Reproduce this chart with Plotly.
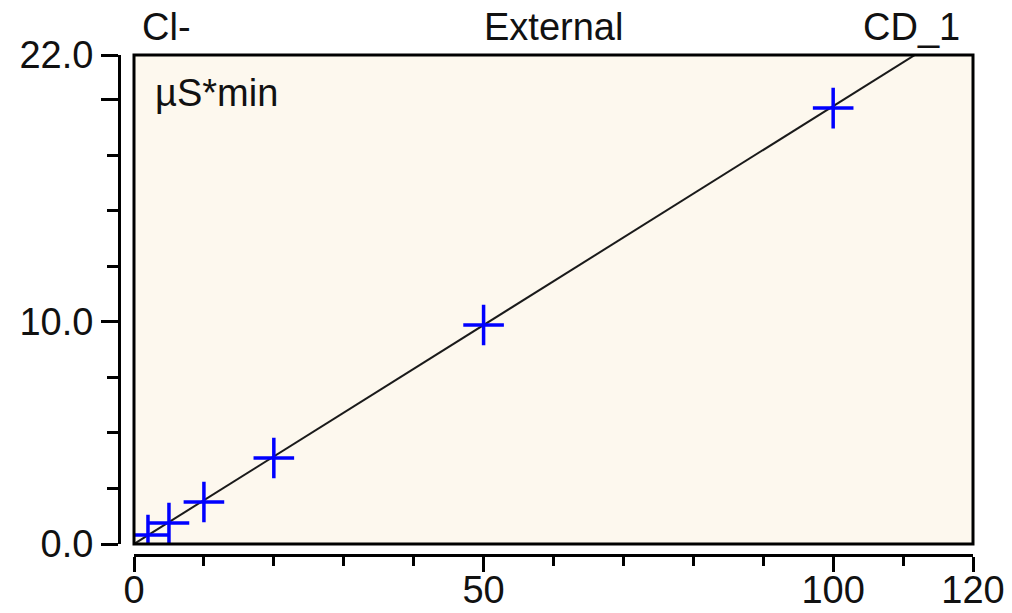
import plotly.graph_objects as go

# ---- data ----
conc = [2, 5, 10, 20, 50, 100]
area = [0.40, 0.94, 1.89, 3.87, 9.85, 19.61]
slope = 0.197              # calibration line through origin
line_x = [0, 120]

y_tickvals = [0, 10, 20, 22]
y_ticktext = ["0.0", "10.0", "", "22.0"]
y_minor = [2.5, 5, 7.5, 12.5, 15, 17.5]
x_tickvals = [0, 50, 100, 120]
x_ticktext = ["0", "50", "100", "120"]
x_minor = [10, 20, 30, 40, 60, 70, 80, 90, 110]

W, H = 1012, 613
L, R, T, B = 134, 973, 55, 544
YAX = 119
XAX = 555

font = "Liberation Sans, Arial, sans-serif"
ink = "#111111"

fig = go.Figure()
fig.add_trace(go.Scatter(
    x=line_x, y=[slope * v for v in line_x], mode="lines",
    line=dict(color="#1a1a1a", width=2), hoverinfo="skip"))
fig.add_trace(go.Scatter(
    x=conc, y=area, mode="markers",
    marker=dict(symbol="cross-thin", size=29, color="#0000FF",
                line=dict(color="#0000FF", width=3.5))))

fig.update_layout(
    width=W, height=H,
    margin=dict(l=0, r=0, t=0, b=0),
    paper_bgcolor="white",
    plot_bgcolor="#FDF8EE",
    showlegend=False,
    font=dict(family=font, size=38, color=ink),
    xaxis=dict(
        domain=[L / W, R / W], range=[0, 120], anchor="free",
        position=(H - XAX) / H,
        showline=True, linecolor="black", linewidth=3,
        ticks="outside", ticklen=15, tickwidth=3, tickcolor="black",
        tickvals=x_tickvals, ticktext=x_ticktext, ticklabelstandoff=-15,
        minor=dict(tickvals=x_minor, ticks="outside", ticklen=9,
                   tickwidth=3, tickcolor="black"),
        showgrid=False, zeroline=False, automargin=False,
        tickfont=dict(size=38, color=ink),
    ),
    yaxis=dict(
        domain=[(H - B) / H, (H - T) / H], range=[0, 22], anchor="free",
        position=YAX / W,
        showline=True, linecolor="black", linewidth=3,
        ticks="outside", ticklen=17, tickwidth=3, tickcolor="black",
        tickvals=y_tickvals, ticktext=y_ticktext,
        minor=dict(tickvals=y_minor, ticks="outside", ticklen=11,
                   tickwidth=3, tickcolor="black"),
        showgrid=False, zeroline=False, automargin=False,
        tickfont=dict(size=38, color=ink),
    ),
    shapes=[dict(type="rect", xref="x domain", yref="y domain",
                 x0=0, x1=1, y0=0, y1=1,
                 line=dict(color="black", width=3), layer="above")],
    annotations=[
        dict(text="Cl-", x=140 / W, y=1 - 27 / H, xref="paper", yref="paper",
             xanchor="left", yanchor="middle", showarrow=False),
        dict(text="External", x=553 / W, y=1 - 27 / H, xref="paper", yref="paper",
             xanchor="center", yanchor="middle", showarrow=False),
        dict(text="CD_1", x=962 / W, y=1 - 27 / H, xref="paper", yref="paper",
             xanchor="right", yanchor="middle", showarrow=False),
        dict(text="µS*min", x=153 / W, y=1 - 93 / H, xref="paper", yref="paper",
             xanchor="left", yanchor="middle", showarrow=False),
    ],
)

fig.write_html("out.html", config={"displayModeBar": False})

# remove the browser's default 8px body margin so the figure fills the window
with open("out.html", encoding="utf-8") as f:
    html = f.read()
html = html.replace("<body>", '<body style="margin:0;overflow:hidden">', 1)
with open("out.html", "w", encoding="utf-8") as f:
    f.write(html)
